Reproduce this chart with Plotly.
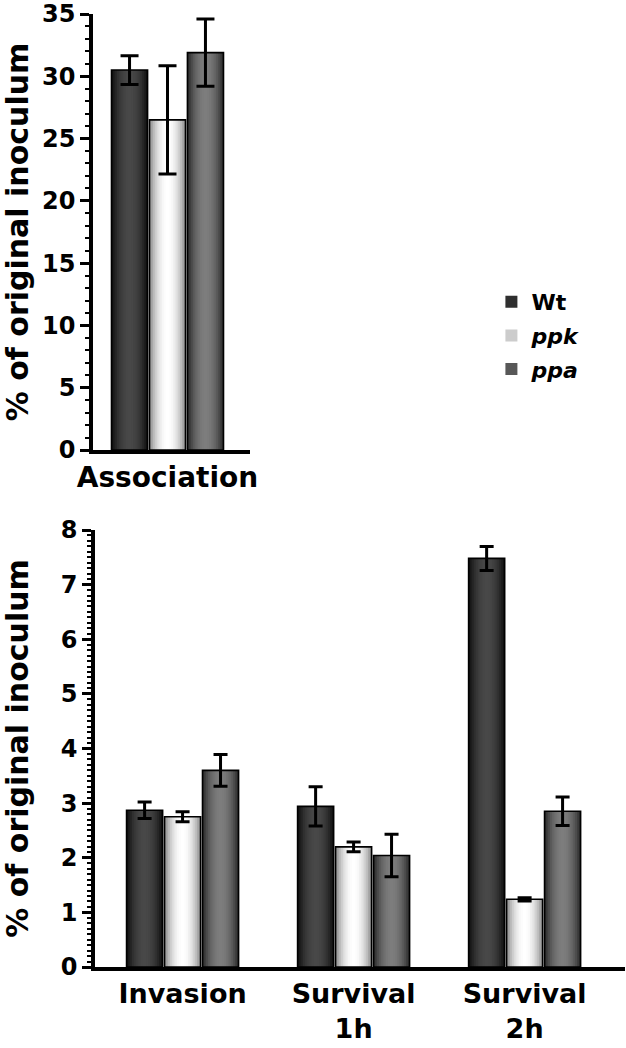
import plotly.graph_objects as go

# ---------------- data ----------------
series_names = ["Wt", "ppk", "ppa"]

assoc_categories = ["Association"]
assoc_wt = [30.5]
assoc_wt_err = [1.15]
assoc_ppk = [26.5]
assoc_ppk_err = [4.35]
assoc_ppa = [31.9]
assoc_ppa_err = [2.7]

inv_categories = ["Invasion", "Survival<br>1h", "Survival<br>2h"]
inv_wt = [2.87, 2.94, 7.48]
inv_wt_err = [0.15, 0.36, 0.22]
inv_ppk = [2.75, 2.20, 1.24]
inv_ppk_err = [0.09, 0.09, 0.03]
inv_ppa = [3.60, 2.04, 2.85]
inv_ppa_err = [0.29, 0.39, 0.26]

# ---------------- style ----------------
FONT = "DejaVu Sans, Arial, sans-serif"
W, H = 626, 1048
SLOT = 0.222          # category units per bar slot
N_LAYERS = 10
edge_cols = {"Wt": (12, 12, 12), "ppk": (135, 135, 135), "ppa": (38, 38, 38)}
center_cols = {"Wt": (72, 72, 72), "ppk": (255, 255, 255), "ppa": (125, 125, 125)}
legend_labels = {"Wt": "<b>Wt</b>", "ppk": "<b><i>ppk</i></b>", "ppa": "<b><i>ppa</i></b>"}


def mix(a, b, t):
    return "rgb(%d,%d,%d)" % tuple(round(a[i] + (b[i] - a[i]) * t) for i in range(3))


fig = go.Figure()


def add_series(x, y, err, idx, name, xa, ya, legend, capw):
    off_c = (idx - 1) * SLOT
    full = 0.95
    fracs = [full * (1 - k / N_LAYERS) for k in range(N_LAYERS)]
    for k, f in enumerate(fracs):
        nxt = fracs[k + 1] if k + 1 < N_LAYERS else 0.0
        d = ((f + nxt) / 2) / full
        t = 1 - d ** 2
        w = SLOT * f
        fig.add_trace(go.Bar(
            x=x, y=y, width=w, offset=off_c - w / 2,
            marker=dict(color=mix(edge_cols[name], center_cols[name], t), line=dict(width=0)),
            xaxis=xa, yaxis=ya, hoverinfo="skip",
            name=legend_labels[name],
            legendgroup=name,
            showlegend=(legend and k == 3),
        ))
    w = SLOT * full
    fig.add_trace(go.Bar(
        x=x, y=y, width=w, offset=off_c - w / 2,
        marker=dict(color="rgba(0,0,0,0)", line=dict(color="black", width=1.6)),
        error_y=dict(type="data", array=err, color="black", thickness=3, width=capw),
        xaxis=xa, yaxis=ya, showlegend=False, name=legend_labels[name], legendgroup=name,
    ))


add_series(assoc_categories, assoc_wt, assoc_wt_err, 0, "Wt", "x", "y", True, 9)
add_series(assoc_categories, assoc_ppk, assoc_ppk_err, 1, "ppk", "x", "y", True, 9)
add_series(assoc_categories, assoc_ppa, assoc_ppa_err, 2, "ppa", "x", "y", True, 9)
add_series(inv_categories, inv_wt, inv_wt_err, 0, "Wt", "x2", "y2", False, 7)
add_series(inv_categories, inv_ppk, inv_ppk_err, 1, "ppk", "x2", "y2", False, 7)
add_series(inv_categories, inv_ppa, inv_ppa_err, 2, "ppa", "x2", "y2", False, 7)

tickfont_y = dict(family=FONT, size=24, color="black", weight="bold")
tickfont_x = dict(family=FONT, size=28, color="black", weight="bold")
title_font = dict(family=FONT, size=30, color="black", weight="bold")

common_y = dict(
    showline=True, linewidth=3.5, linecolor="black", ticks="outside", ticklen=9,
    tickwidth=3, tickcolor="black", showgrid=False, zeroline=False,
    tickfont=tickfont_y, fixedrange=True, automargin=False,
    ticklabeloverflow="allow",
)
common_x = dict(
    type="category", showline=True, linewidth=3.5, linecolor="black", ticks="",
    showgrid=False, zeroline=False, tickfont=tickfont_x, automargin=False,
)

fig.update_layout(
    width=W, height=H,
    margin=dict(l=0, r=0, t=0, b=0),
    paper_bgcolor="white", plot_bgcolor="white",
    barmode="overlay",
    showlegend=True,
    legend=dict(
        x=0.785, y=1 - 281 / H, xanchor="left", yanchor="top",
        font=dict(family=FONT, size=22, color="black"),
        tracegroupgap=2, bgcolor="rgba(0,0,0,0)",
    ),
    xaxis=dict(common_x, domain=[93 / W, 250 / W], range=[-0.4357, 0.4825], anchor="y"),
    yaxis=dict(common_y, domain=[1 - 450 / H, 1 - 14 / H], range=[0, 35], dtick=5,
               anchor="x",
               minor=dict(dtick=1, ticks="outside", ticklen=4, tickwidth=2, tickcolor="black"),
               title=dict(text="% of original inoculum", font=title_font, standoff=19)),
    xaxis2=dict(common_x, domain=[95 / W, 625 / W], range=[-0.512, 2.587], anchor="y2",
                tickfont=dict(tickfont_x, size=27)),
    yaxis2=dict(common_y, domain=[1 - 967 / H, 1 - 530 / H], range=[0, 8], dtick=1,
                anchor="x2",
                minor=dict(dtick=0.1, ticks="outside", ticklen=4, tickwidth=2, tickcolor="black"),
                title=dict(text="% of original inoculum", font=title_font, standoff=37)),
)

# remove the default page margin so the figure sits at the window's top-left corner
fig.write_html(
    "out.html",
    config={"displayModeBar": False},
    post_script="document.body.style.margin='0px';",
)
